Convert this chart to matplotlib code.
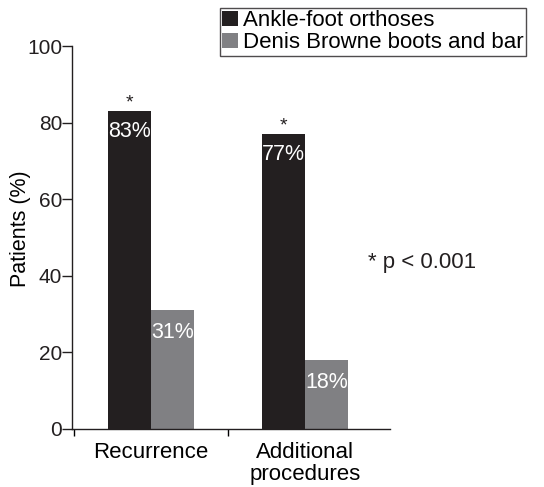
import numpy as np
import matplotlib.pyplot as plt

plt.rcParams['font.family'] = ['Liberation Sans', 'DejaVu Sans']

categories = ['Recurrence', 'Additional\nprocedures']
afo = [83, 77]          # Ankle-foot orthoses
dbb = [31, 18]          # Denis Browne boots and bar
afo_labels = ['83%', '77%']
dbb_labels = ['31%', '18%']
signif = ['*', '*']

c_afo = '#231f20'
c_dbb = '#808083'
fs = 16

fig = plt.figure(figsize=(5.44, 4.87), dpi=100)
ax = fig.add_axes([72/544, 1-429/487, (390-72)/544, (429-46)/487])

x = np.arange(len(categories))
w = 0.28
b1 = ax.bar(x - w/2, afo, w, color=c_afo, label='Ankle-foot orthoses')
b2 = ax.bar(x + w/2, dbb, w, color=c_dbb, label='Denis Browne boots and bar')

for i in range(len(x)):
    ax.text(x[i] - w/2, afo[i] - 5.3, afo_labels[i], color='white', ha='center', va='center', fontsize=15.5)
    ax.text(x[i] + w/2, dbb[i] - 5.8, dbb_labels[i], color='white', ha='center', va='center', fontsize=15.5)
    ax.text(x[i] - w/2, afo[i] + 2, signif[i], color='#231f20', ha='center', va='center', fontsize=14)

ax.set_xlim(-0.513, 1.552)
ax.set_ylim(0, 100)
ax.set_yticks([0, 20, 40, 60, 80, 100])
ax.set_xticks(x)
ax.set_xticklabels(categories, fontsize=fs, linespacing=1.12)
ax.set_xticks([-0.5, 0.5], minor=True)
ax.tick_params(axis='x', which='major', length=0, pad=9)
ax.tick_params(axis='x', which='minor', length=5, width=1, direction='out')
ax.tick_params(axis='y', length=7, width=1, labelsize=15, pad=0, colors='#231f20')
ax.set_ylabel('Patients (%)', fontsize=15.5)
ax.yaxis.set_label_coords(-0.128, 0.522)
for s in ['top', 'right']:
    ax.spines[s].set_visible(False)
for s in ['left', 'bottom']:
    ax.spines[s].set_linewidth(1)
    ax.spines[s].set_color('#231f20')

ax.text(0.93, 0.436, '* p < 0.001', transform=ax.transAxes, fontsize=fs, ha='left', va='center', color='#231f20')

leg = fig.legend(handles=[b1, b2], loc='upper left', bbox_to_anchor=(220/544, 1-8/487),
                 fontsize=fs, frameon=True, fancybox=False, edgecolor='#231f20',
                 handlelength=0.7, handleheight=0.7, handletextpad=0.25,
                 borderpad=0.1, labelspacing=0.05, borderaxespad=0)
leg.get_frame().set_linewidth(1)

plt.savefig('out.png', dpi=100)
